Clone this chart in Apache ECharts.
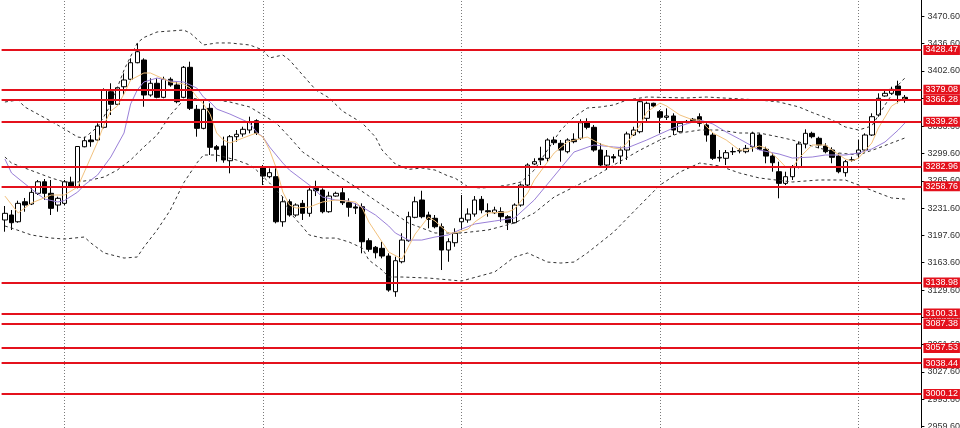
<!DOCTYPE html>
<html><head><meta charset="utf-8">
<script src="https://cdn.jsdelivr.net/npm/echarts@6/dist/echarts.min.js"></script>
<style>html,body{margin:0;padding:0;background:#fff}#c{width:960px;height:428px}</style>
</head><body><div id="c"></div>
<script>
const opens = [3216.8,3223.0,3214.6,3239.5,3236.7,3250.0,3264.4,3250.0,3235.4,3237.5,3263.7,3258.2,3308.0,3316.4,3316.4,3332.2,3376.5,3360.8,3382.7,3392.0,3412.6,3416.0,3372.4,3387.0,3369.5,3392.0,3384.9,3369.5,3406.9,3354.6,3330.9,3355.8,3308.0,3308.9,3290.6,3320.5,3323.9,3328.8,3340.4,3282.4,3270.7,3270.7,3214.6,3239.5,3223.0,3237.5,3225.1,3256.2,3254.1,3227.1,3246.6,3250.7,3238.3,3233.0,3233.3,3191.0,3182.8,3181.5,3171.9,3127.5,3164.8,3191.0,3220.1,3241.7,3223.0,3218.9,3208.4,3179.4,3188.5,3214.6,3216.8,3224.2,3242.5,3228.3,3225.8,3227.1,3220.9,3213.4,3235.4,3260.3,3286.5,3293.6,3293.6,3316.4,3312.3,3301.8,3317.2,3318.5,3337.9,3332.2,3303.9,3285.2,3295.6,3296.4,3303.9,3322.6,3326.7,3343.4,3362.1,3351.6,3344.6,3346.3,3326.7,3339.2,3342.2,3345.4,3335.1,3322.6,3294.0,3293.6,3301.6,3302.8,3301.8,3308.0,3322.6,3304.8,3296.4,3276.9,3262.4,3270.7,3283.1,3311.4,3324.7,3318.5,3308.9,3303.9,3296.4,3275.7,3291.0,3299.8,3303.9,3322.6,3347.5,3371.2,3374.5,3383.6,3369.5];
const closes = [3225.1,3213.4,3237.5,3235.4,3251.2,3264.4,3250.0,3231.3,3243.8,3264.4,3259.1,3308.3,3315.5,3314.3,3333.8,3378.6,3360.8,3381.5,3391.1,3412.6,3426.3,3372.4,3387.0,3369.5,3392.0,3384.9,3364.1,3406.9,3355.8,3330.9,3354.6,3307.3,3304.8,3291.5,3320.5,3323.5,3329.7,3339.2,3324.7,3271.5,3275.7,3214.6,3239.5,3223.0,3235.4,3225.1,3254.1,3253.2,3227.1,3246.6,3250.0,3238.3,3232.6,3231.6,3189.7,3180.3,3176.0,3171.9,3129.6,3166.1,3191.8,3220.9,3239.5,3220.9,3217.6,3208.4,3179.4,3189.7,3200.2,3218.9,3224.2,3241.7,3229.2,3227.1,3229.2,3220.9,3213.4,3235.4,3260.3,3285.2,3289.4,3291.5,3316.4,3313.0,3303.9,3316.4,3314.3,3337.9,3332.2,3303.9,3285.2,3296.4,3294.0,3303.9,3323.9,3328.8,3364.1,3362.1,3358.7,3344.6,3346.3,3328.8,3337.2,3339.5,3340.4,3337.2,3322.6,3293.6,3294.8,3300.6,3302.1,3303.2,3306.0,3324.7,3304.8,3296.4,3288.1,3262.4,3270.7,3283.1,3311.4,3324.7,3320.5,3310.2,3301.8,3294.8,3276.9,3289.4,3291.8,3303.9,3322.6,3345.4,3368.3,3374.5,3379.5,3372.4,3366.3];
const lows = [3202.2,3204.3,3213.4,3227.1,3235.4,3247.9,3241.7,3223.0,3227.1,3235.4,3258.2,3256.2,3307.3,3308.0,3315.5,3330.9,3347.5,3360.0,3372.4,3391.1,3411.9,3357.8,3370.3,3368.3,3368.3,3382.7,3362.1,3368.3,3353.7,3320.5,3329.7,3297.7,3289.4,3288.1,3274.9,3314.3,3320.5,3324.7,3322.6,3260.3,3268.7,3212.6,3208.4,3220.9,3220.9,3216.8,3220.9,3246.6,3225.1,3225.8,3245.8,3235.4,3220.9,3224.2,3175.3,3177.3,3169.0,3169.0,3127.5,3121.2,3162.8,3189.7,3218.9,3218.9,3206.4,3206.4,3154.5,3164.8,3183.5,3204.3,3213.4,3220.9,3225.1,3220.9,3224.2,3214.6,3204.3,3212.6,3233.3,3258.2,3285.2,3285.2,3289.4,3310.2,3289.4,3299.8,3312.3,3316.4,3329.7,3301.8,3283.1,3279.0,3288.1,3286.5,3291.5,3321.4,3324.7,3337.9,3357.8,3324.7,3341.3,3322.6,3325.5,3337.2,3338.8,3332.9,3314.3,3291.5,3289.4,3285.2,3297.7,3299.8,3299.8,3301.8,3303.9,3287.4,3276.9,3243.8,3260.3,3266.6,3281.1,3306.0,3318.5,3306.0,3299.8,3287.4,3274.9,3270.7,3289.4,3293.6,3301.8,3321.4,3345.4,3370.3,3372.4,3362.1,3362.8];
const highs = [3234.2,3229.2,3240.8,3244.2,3258.2,3266.6,3267.8,3266.6,3245.8,3266.6,3270.7,3308.9,3320.5,3322.6,3337.2,3380.7,3387.0,3382.7,3399.4,3418.1,3436.8,3418.1,3393.2,3393.2,3395.2,3394.4,3389.0,3408.5,3413.9,3360.0,3366.2,3362.1,3310.2,3320.5,3322.6,3328.8,3332.9,3345.4,3342.2,3285.2,3281.1,3281.1,3245.8,3242.5,3237.5,3241.7,3259.1,3265.7,3256.2,3252.0,3252.0,3257.5,3243.8,3237.5,3237.5,3194.0,3184.4,3189.7,3175.3,3171.1,3200.2,3227.1,3245.8,3253.2,3227.1,3223.0,3212.6,3194.0,3206.4,3247.9,3231.3,3246.6,3246.6,3237.5,3233.3,3232.6,3223.0,3237.5,3262.4,3287.4,3293.6,3308.0,3318.5,3320.5,3316.4,3318.5,3324.7,3342.2,3343.4,3335.1,3312.3,3303.9,3298.9,3308.0,3326.7,3332.9,3365.0,3364.1,3362.8,3353.7,3355.8,3349.6,3339.2,3341.3,3343.8,3349.6,3337.2,3325.5,3303.9,3303.9,3307.3,3306.0,3310.2,3326.7,3324.7,3308.0,3299.8,3289.4,3276.9,3285.2,3314.3,3329.7,3326.7,3320.5,3312.3,3307.3,3299.8,3291.5,3295.6,3316.4,3324.7,3349.6,3374.5,3377.8,3382.7,3390.2,3372.4];

const levels = [3428.47,3379.08,3366.28,3339.26,3282.96,3258.76,3138.98,3100.31,3087.38,3057.53,3038.44,3000.12];
const yTicks = [3470.6,3436.6,3402.6,3368.6,3333.6,3299.6,3265.6,3231.6,3197.6,3163.6,3129.6,3095.6,3061.6,3027.6,2993.6,2959.6];
const gridCandles = [9,39,69,99,129];

const maFast = [[0,3246.6],[2,3225.5],[4,3237.9],[7,3247.9],[9,3247.9],[11,3257.9],[12,3276.5],[14,3313.9],[15,3336.3],[16,3352.5],[17,3358.7],[18,3373.7],[19,3391.1],[21,3399.8],[22,3399.8],[24,3392.3],[25,3388.6],[27,3386.1],[28,3381.1],[29,3369.9],[30,3361.2],[31,3348.7],[32,3325.1],[33,3316.4],[34,3312.6],[36,3318.9],[38,3325.1],[39,3320.1],[40,3303.9],[41,3281.5],[42,3251.6],[43,3235.4],[44,3231.7],[46,3232.9],[48,3239.2],[50,3241.7],[53,3239.2],[54,3231.7],[55,3214.3],[57,3189.4],[58,3176.9],[60,3168.2],[62,3199.3],[64,3220.5],[65,3215.5],[67,3200.6],[68,3200.6],[70,3205.5],[71,3214.3],[73,3225.5],[76,3226.7],[77,3230.4],[79,3250.4],[80,3266.6],[83,3300.2],[85,3313.9],[88,3320.1],[90,3311.4],[92,3306.4],[93,3305.2],[94,3312.6],[96,3335.1],[97,3351.2],[99,3362.4],[100,3358.7],[102,3347.5],[104,3341.3],[105,3341.3],[107,3325.1],[109,3316.4],[111,3303.9],[112,3303.9],[114,3308.9],[115,3306.4],[117,3291.5],[118,3282.7],[119,3281.5],[120,3293.9],[122,3310.2],[124,3310.2],[125,3303.9],[127,3292.7],[128,3290.2],[129,3293.9],[131,3312.6],[132,3331.3],[134,3358.7],[136,3368.7]];
const maSlow = [[0,3292.7],[1,3275.3],[4,3255.4],[6,3242.9],[8,3239.2],[9,3241.0],[11,3251.6],[12,3260.3],[14,3272.8],[16,3295.2],[18,3325.1],[19,3361.2],[20,3378.6],[21,3388.6],[23,3393.6],[25,3389.8],[27,3388.6],[29,3381.1],[30,3369.9],[31,3363.7],[32,3355.0],[34,3348.7],[36,3341.3],[37,3337.5],[38,3326.3],[39,3320.1],[40,3307.7],[42,3287.7],[43,3279.0],[44,3272.8],[46,3260.3],[48,3245.4],[50,3241.7],[52,3240.4],[54,3232.9],[56,3223.0],[58,3209.3],[59,3200.6],[61,3191.8],[63,3191.8],[65,3195.6],[67,3198.1],[69,3205.5],[71,3211.8],[74,3215.5],[77,3219.2],[80,3241.7],[83,3271.5],[86,3301.4],[89,3310.2],[92,3307.7],[94,3306.4],[97,3316.4],[101,3331.3],[105,3341.3],[107,3336.3],[109,3326.3],[111,3317.6],[114,3303.9],[117,3298.9],[119,3293.9],[122,3295.2],[124,3297.7],[127,3297.7],[129,3300.2],[131,3305.2],[133,3313.9],[135,3328.8],[136,3337.5]];
const bbUpper = [[0,3363.7],[2,3366.2],[3,3357.5],[7,3339.6],[9,3330.1],[11,3320.1],[12,3318.9],[14,3332.6],[16,3360.0],[18,3403.5],[20,3437.2],[21,3444.0],[23,3450.9],[27,3453.3],[28,3449.6],[30,3434.7],[32,3437.2],[34,3437.2],[37,3434.7],[39,3428.4],[40,3418.5],[42,3422.2],[43,3416.0],[45,3397.3],[47,3378.6],[49,3368.7],[51,3352.5],[54,3337.5],[56,3320.1],[57,3303.9],[59,3286.5],[61,3279.8],[63,3281.5],[65,3279.0],[67,3271.5],[68,3269.1],[70,3257.9],[72,3256.6],[74,3257.9],[76,3260.3],[78,3264.1],[80,3279.0],[82,3303.9],[84,3328.8],[86,3345.0],[88,3356.2],[90,3357.5],[92,3360.0],[94,3366.2],[97,3369.9],[103,3368.7],[106,3369.9],[114,3366.2],[117,3363.7],[120,3357.5],[122,3350.6],[125,3341.3],[127,3332.6],[129,3328.8],[131,3333.8],[133,3360.0],[135,3384.9],[136,3393.6]];
const bbMiddle = [[0,3295.2],[1,3287.7],[3,3281.5],[5,3275.3],[7,3269.1],[9,3264.1],[11,3264.1],[13,3266.6],[15,3270.3],[17,3279.0],[19,3291.5],[21,3307.7],[23,3322.6],[25,3347.5],[27,3366.2],[28,3368.7],[30,3366.2],[32,3366.2],[34,3363.7],[37,3357.5],[39,3347.5],[41,3337.5],[43,3320.1],[45,3301.4],[49,3279.0],[53,3257.9],[57,3235.4],[61,3213.0],[65,3200.6],[69,3200.6],[73,3204.3],[77,3213.0],[80,3225.5],[83,3245.4],[86,3257.9],[89,3270.3],[92,3285.2],[96,3303.9],[99,3316.4],[102,3325.1],[105,3328.8],[108,3328.8],[111,3325.1],[114,3325.1],[117,3320.1],[119,3316.4],[123,3306.4],[126,3300.2],[129,3297.7],[132,3306.4],[136,3318.9]];
const bbLower = [[0,3209.3],[1,3206.8],[4,3198.1],[7,3194.3],[9,3193.1],[12,3195.6],[13,3188.1],[15,3175.7],[18,3169.4],[20,3170.7],[21,3183.1],[23,3204.3],[25,3229.2],[27,3262.8],[29,3287.7],[30,3297.7],[32,3297.7],[35,3291.5],[37,3285.2],[38,3279.0],[40,3262.8],[42,3245.4],[43,3226.7],[45,3208.0],[46,3198.1],[48,3194.3],[50,3194.3],[52,3189.4],[54,3181.9],[55,3166.9],[57,3154.5],[58,3145.8],[60,3145.8],[64,3144.5],[69,3140.8],[74,3152.0],[77,3170.7],[79,3175.7],[82,3164.4],[84,3163.2],[86,3164.4],[88,3175.7],[92,3201.8],[96,3235.4],[99,3260.3],[102,3276.5],[105,3287.7],[108,3284.0],[111,3275.3],[114,3269.1],[119,3264.1],[123,3266.6],[127,3266.6],[129,3260.3],[132,3250.4],[134,3244.2],[136,3242.9]];

const N = 139;
const cats = Array.from({length: N}, (_, i) => i);
const expand = pairs => { const a = new Array(N).fill(null); pairs.forEach(([i, v]) => { a[i] = v; }); return a; };
const candles = opens.map((o, i) => [o, closes[i], lows[i], highs[i]]);
const RED = '#e4111c';
const FONT = 'Liberation Sans';

const lineSeries = (data, color, dashed) => ({
  type: 'line', data: expand(data), connectNulls: true, showSymbol: false, symbol: 'none',
  smooth: false, silent: true, z: 3,
  lineStyle: { color: color, width: 1, type: dashed ? [3, 3] : 'solid' }
});

const chart = echarts.init(document.getElementById('c'), null, { renderer: 'canvas' });
chart.setOption({
  animation: false,
  backgroundColor: '#ffffff',
  grid: { left: 1.6, right: 38.6, top: 0, bottom: 0, containLabel: false, outerBoundsMode: 'none' },
  xAxis: { type: 'category', data: cats, boundaryGap: true, show: false },
  yAxis: {
    type: 'value', position: 'right', min: 2957.8, max: 3490.7,
    axisLine: { show: true, lineStyle: { color: '#000', width: 1 } },
    axisTick: { show: true, length: 3, customValues: yTicks, lineStyle: { color: '#000' } },
    axisLabel: { customValues: yTicks, formatter: v => v.toFixed(2), color: '#333', fontSize: 9, fontFamily: FONT, margin: 6, padding: [3, 0, 0, 0] },
    splitLine: { show: false }
  },
  series: [
    {
      type: 'candlestick', data: candles, barWidth: 5, z: 2,
      itemStyle: { color: '#ffffff', color0: '#000000', borderColor: '#000000', borderColor0: '#000000', borderWidth: 1 },
      markLine: {
        silent: true, symbol: ['none', 'none'], animation: false, z: 1,
        lineStyle: { color: '#7a7a7a', type: [1, 2], width: 1 },
        label: { show: false },
        data: gridCandles.map(i => ({ xAxis: i }))
      }
    },
    lineSeries(bbUpper, '#333333', true),
    lineSeries(bbMiddle, '#333333', true),
    lineSeries(bbLower, '#333333', true),
    lineSeries(maSlow, '#9a80d8', false),
    lineSeries(maFast, '#f2c27e', false),
    {
      type: 'line', data: [], z: 10, silent: true,
      markLine: {
        silent: true, symbol: ['none', 'none'], animation: false,
        lineStyle: { color: RED, type: 'solid', width: 2 },
        label: {
          show: true, position: 'end', distance: 2, formatter: p => p.value.toFixed(2),
          color: '#fff', backgroundColor: RED, fontSize: 9, fontFamily: FONT, padding: [1, 2, 0, 2], lineHeight: 9
        },
        data: levels.map(v => ({ yAxis: v }))
      }
    }
  ]
});
</script>
</body></html>
